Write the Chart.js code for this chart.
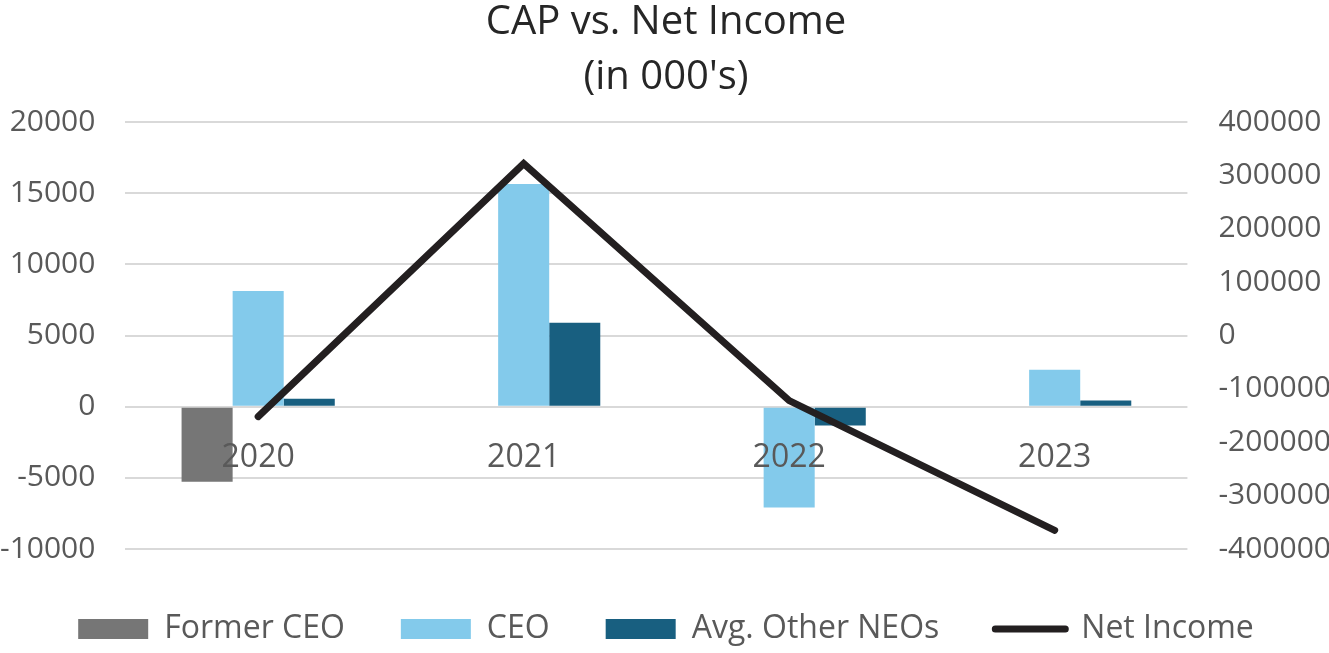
<!DOCTYPE html>
<html>
<head>
<meta charset="utf-8">
<script src="https://cdn.jsdelivr.net/npm/chart.js@4/dist/chart.umd.min.js"></script>
<style>
  html, body { margin: 0; padding: 0; background: #fff; }
  .canvas-container { width: 1329px; height: 653px; position: relative; }
</style>
</head>
<body>
<div class="canvas-container"><canvas id="myChart"></canvas></div>
<script>
"use strict";
const years = ['2020', '2021', '2022', '2023'];
const formerCeo = [-5270, null, null, null];
const ceo = [8130, 15640, -7080, 2600];
const otherNeos = [560, 5890, -1330, 430];
const netIncome = [-152000, 322000, -122000, -365000];
const leftTicks = [-10000, -5000, 0, 5000, 10000, 15000, 20000];
const rightTicks = [-400000, -300000, -200000, -100000, 0, 100000, 200000, 300000, 400000];

const tickColor = '#595959';
const font = 'Open Sans';

const config = {
    type: 'bar',
    data: {
        labels: years,
        datasets: [{
            label: 'Former CEO',
            data: formerCeo,
            backgroundColor: '#767676',
            yAxisID: 'y'
        }, {
            label: 'CEO',
            data: ceo,
            backgroundColor: '#83caeb',
            yAxisID: 'y'
        }, {
            label: 'Avg. Other NEOs',
            data: otherNeos,
            backgroundColor: '#185f80',
            yAxisID: 'y'
        }, {
            type: 'line',
            label: 'Net Income',
            data: netIncome,
            borderColor: '#231f20',
            backgroundColor: '#231f20',
            borderWidth: 7,
            borderCapStyle: 'round',
            pointRadius: 0,
            tension: 0,
            order: -1,
            yAxisID: 'y1'
        }]
    },
    options: {
        responsive: true,
        maintainAspectRatio: false,
        animation: false,
        barPercentage: 1,
        categoryPercentage: 0.577,
        layout: { padding: { top: -5, left: -30, right: -33, bottom: -2 } },
        scales: {
            x: {
                position: { y: 0 },
                grid: { display: false },
                border: { display: false },
                ticks: { z: 1, color: tickColor, padding: 24, font: { family: font, size: 32 } }
            },
            y: {
                position: 'left',
                min: -10000,
                max: 20000,
                afterBuildTicks: s => { s.ticks = leftTicks.map(v => ({ value: v })); },
                grid: { color: '#d9d9d9', lineWidth: 2, drawTicks: false },
                border: { display: false },
                ticks: { color: tickColor, padding: 30, callback: v => String(v), font: { family: font, size: 30 } }
            },
            y1: {
                position: 'right',
                min: -400000,
                max: 400000,
                afterBuildTicks: s => { s.ticks = rightTicks.map(v => ({ value: v })); },
                grid: { display: false, drawTicks: false },
                border: { display: false },
                ticks: { color: tickColor, padding: 31, callback: v => String(v), font: { family: font, size: 30 } }
            }
        },
        plugins: {
            title: {
                display: true,
                text: ['CAP vs. Net Income', "(in 000's)"],
                color: '#262626',
                font: { family: font, size: 40, weight: 'normal', lineHeight: 1.375 },
                padding: { top: 0, bottom: 17 }
            },
            // empty spacer between plot and legend
            subtitle: {
                display: true,
                position: 'bottom',
                text: ' ',
                weight: 1500,
                font: { size: 1, lineHeight: 1 },
                padding: { top: 0, bottom: 7 }
            },
            legend: {
                position: 'bottom',
                weight: 3000,
                labels: {
                    usePointStyle: true,
                    pointStyleWidth: 70,
                    boxHeight: 20,
                    padding: 56,
                    color: tickColor,
                    font: { family: font, size: 32 },
                    sort: (a, b) => a.datasetIndex - b.datasetIndex,
                    generateLabels(chart) {
                        const items = Chart.defaults.plugins.legend.labels.generateLabels(chart);
                        items.forEach(it => {
                            const ds = chart.data.datasets[it.datasetIndex];
                            it.pointStyle = ds.type === 'line' ? 'line' : 'rect';
                            if (ds.type === 'line') it.lineCap = 'round';
                        });
                        return items;
                    }
                }
            },
            tooltip: { enabled: false }
        }
    }
};
new Chart(document.getElementById('myChart'), config);
</script>
</body>
</html>
